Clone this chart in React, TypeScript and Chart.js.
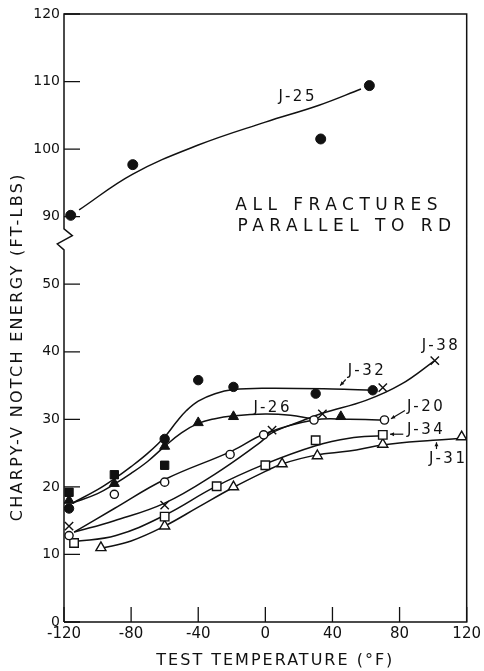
import React, { useEffect, useRef } from 'react';
import { Chart, registerables } from 'chart.js';

Chart.register(...registerables);

// ---------- axis ----------
const xTickValues = [-120, -80, -40, 0, 40, 80, 120];
const xTickLabels = ['-120', '-80', '-40', '0', '40', '80', '120'];
const yTickLabels = ['0', '10', '20', '30', '40', '50', '90', '100', '110', '120'];
const X_TITLE = 'TEST TEMPERATURE (°F)';
const Y_TITLE = 'CHARPY-V NOTCH ENERGY (FT-LBS)';

// broken axis: energies of 90 and above are drawn 30 units lower
const BREAK_SHIFT = 30;
const BREAK_AT = 56.6; // axis units where the zig-zag sits
const mapEnergy = (v: number) => (v >= 90 ? v - BREAK_SHIFT : v);

// ---------- measured points ----------
const j25Temps = [-116, -79, 33, 62];
const j25Energy = [90.2, 97.7, 101.5, 109.4];

const j32Temps = [-117, -60, -40, -19, 30, 64];
const j32Energy = [16.8, 27.1, 35.8, 34.8, 33.8, 34.3];

const sqTemps = [-117, -90, -60];
const sqEnergy = [19.2, 21.8, 23.2];

const j26Temps = [-117, -90, -60, -40, -19, 45];
const j26Energy = [18.0, 20.5, 26.0, 29.5, 30.4, 30.4];

const j38Temps = [-117, -60, 4, 34, 70, 101];
const j38Energy = [14.2, 17.3, 28.4, 30.8, 34.7, 38.7];

const j20Temps = [-117, -90, -60, -21, -1, 29, 71];
const j20Energy = [12.8, 18.9, 20.7, 24.8, 27.7, 29.9, 29.9];

const j34Temps = [-114, -60, -29, 0, 30, 70];
const j34Energy = [11.7, 15.6, 20.1, 23.2, 26.9, 27.7];

const j31Temps = [-98, -60, -19, 10, 31, 70, 117];
const j31Energy = [11.0, 14.2, 20.0, 23.4, 24.6, 26.3, 27.4];

// ---------- hand-drawn fit curves ----------
const j25CurveT = [-111, -79, -40, 0, 32, 57];
const j25CurveE = [91.0, 96.3, 100.6, 104.0, 106.5, 108.9];

const j32CurveT = [-115, -100, -90, -80, -70, -60, -53, -47, -40, -30, -19, 0, 40, 64];
const j32CurveE = [17.6, 19.6, 21.2, 23.0, 25.0, 27.4, 29.6, 31.3, 32.7, 33.8, 34.4, 34.6, 34.5, 34.3];

const j26CurveT = [-115, -100, -90, -80, -70, -60, -50, -40, -30, -20, 0, 15, 27];
const j26CurveE = [17.6, 19.0, 20.4, 22.0, 23.8, 26.0, 28.0, 29.4, 30.1, 30.5, 30.8, 30.6, 30.1];

const j38CurveT = [-114, -90, -60, -30, -4, 4, 20, 34, 60, 81, 101];
const j38CurveE = [13.3, 15.0, 17.6, 21.9, 26.4, 28.0, 29.6, 30.9, 32.8, 35.2, 38.7];

const j20CurveT = [-114, -90, -60, -20, 0, 29, 50, 71];
const j20CurveE = [13.3, 16.8, 21.1, 25.3, 27.9, 29.9, 30.0, 29.9];

const j34CurveT = [-114, -89, -60, -30, 0, 30, 50, 70];
const j34CurveE = [11.9, 12.8, 15.8, 20.0, 23.4, 26.1, 27.2, 27.6];

const j31CurveT = [-98, -80, -60, -40, -20, 0, 10, 30, 50, 70, 100, 118];
const j31CurveE = [10.9, 12.0, 14.2, 17.0, 19.8, 22.3, 23.4, 24.7, 25.3, 26.2, 26.9, 27.2];

// ---------- annotations (axis units) ----------
const seriesLabels = [
  { text: 'J-25', x: 18.6, y: 77.7 },
  { text: 'J-32', x: 59.9, y: 37.2 },
  { text: 'J-38', x: 104, y: 40.8 },
  { text: 'J-26', x: 3.7, y: 31.7 },
  { text: 'J-20', x: 95.1, y: 31.8 },
  { text: 'J-34', x: 95.1, y: 28.4 },
  { text: 'J-31', x: 108.3, y: 24.1 },
];
const arrows = [
  { x1: 47.9, y1: 35.9, x2: 44.6, y2: 35.0 },
  { x1: 83.2, y1: 31.3, x2: 74.9, y2: 30.1 },
  { x1: 82.2, y1: 27.8, x2: 74.3, y2: 27.8 },
  { x1: 102, y1: 25.6, x2: 102, y2: 26.6 },
];
const noteLines = [
  { text: 'ALL FRACTURES', x: 42.4, y: 61.6 },
  { text: 'PARALLEL TO RD', x: 47.1, y: 58.6 },
];

const INK = '#111111';
const FONT = '"DejaVu Sans", sans-serif';

const pts = (t: number[], e: number[]) => t.map((x, i) => ({ x, y: mapEnergy(e[i]) }));

const markerSet = (label: string, t: number[], e: number[], style: string, r: number, filled: boolean) => ({
  label,
  data: pts(t, e),
  showLine: false,
  pointStyle: style,
  pointRadius: r,
  pointHoverRadius: r,
  pointBackgroundColor: filled ? INK : '#ffffff',
  pointBorderColor: INK,
  pointBorderWidth: filled ? 1 : 1.4,
});

const curveSet = (label: string, t: number[], e: number[]) => ({
  label,
  data: pts(t, e),
  showLine: true,
  pointRadius: 0,
  pointHoverRadius: 0,
  borderColor: INK,
  borderWidth: 1.5,
  fill: false,
  tension: 0.4,
});

const decorPlugin = {
  id: 'decor',
  afterDraw(chart: any) {
    const { ctx, chartArea: a, scales } = chart;
    const xs = scales.x;
    const ys = scales.y;
    ctx.save();
    ctx.strokeStyle = INK;
    ctx.fillStyle = INK;
    ctx.lineWidth = 1.5;
    ctx.lineJoin = 'miter';

    // frame with broken left axis
    const brk = ys.getPixelForValue(BREAK_AT);
    ctx.beginPath();
    ctx.moveTo(a.left, a.bottom);
    ctx.lineTo(a.right, a.bottom);
    ctx.lineTo(a.right, a.top);
    ctx.lineTo(a.left, a.top);
    ctx.lineTo(a.left, brk - 10.7);
    ctx.lineTo(a.left + 8.3, brk - 4);
    ctx.lineTo(a.left - 6.7, brk + 4.3);
    ctx.lineTo(a.left, brk + 10.3);
    ctx.lineTo(a.left, a.bottom);
    ctx.stroke();

    // inward tick marks
    ctx.lineWidth = 1.3;
    ctx.beginPath();
    ys.ticks.forEach((t: any) => {
      const py = ys.getPixelForValue(t.value);
      ctx.moveTo(a.left, py);
      ctx.lineTo(a.left + 16, py);
    });
    xs.ticks.forEach((t: any) => {
      const px = xs.getPixelForValue(t.value);
      ctx.moveTo(px, a.bottom);
      ctx.lineTo(px, a.bottom - 15);
    });
    ctx.stroke();

    ctx.textAlign = 'center';
    ctx.textBaseline = 'middle';

    // series labels
    ctx.font = `15px ${FONT}`;
    (ctx as any).letterSpacing = '2.5px';
    seriesLabels.forEach((l) => {
      ctx.fillText(l.text, xs.getPixelForValue(l.x) + 1.2, ys.getPixelForValue(l.y));
    });

    // arrows
    ctx.lineWidth = 1.2;
    arrows.forEach((ar) => {
      const x1 = xs.getPixelForValue(ar.x1);
      const y1 = ys.getPixelForValue(ar.y1);
      const x2 = xs.getPixelForValue(ar.x2);
      const y2 = ys.getPixelForValue(ar.y2);
      ctx.beginPath();
      ctx.moveTo(x1, y1);
      ctx.lineTo(x2, y2);
      ctx.stroke();
      const ang = Math.atan2(y2 - y1, x2 - x1);
      const hl = 4.5;
      ctx.beginPath();
      ctx.moveTo(x2, y2);
      ctx.lineTo(x2 - hl * Math.cos(ang - 0.45), y2 - hl * Math.sin(ang - 0.45));
      ctx.lineTo(x2 - hl * Math.cos(ang + 0.45), y2 - hl * Math.sin(ang + 0.45));
      ctx.closePath();
      ctx.fill();
    });

    // note
    ctx.font = `17px ${FONT}`;
    (ctx as any).letterSpacing = '5.5px';
    noteLines.forEach((l) => {
      ctx.fillText(l.text, xs.getPixelForValue(l.x) + 2.7, ys.getPixelForValue(l.y));
    });

    // axis titles
    ctx.font = `16px ${FONT}`;
    (ctx as any).letterSpacing = '2px';
    ctx.fillText(X_TITLE, (a.left + a.right) / 2 + 10, a.bottom + 39);
    ctx.save();
    ctx.translate(18, (a.top + a.bottom) / 2 + 30);
    ctx.rotate(-Math.PI / 2);
    (ctx as any).letterSpacing = '2.3px';
    ctx.fillText(Y_TITLE, 1.2, 0);
    ctx.restore();

    ctx.restore();
  },
};

export default function App() {
  const ref = useRef<HTMLCanvasElement | null>(null);

  useEffect(() => {
    if (!ref.current) return;
    const chart = new Chart(ref.current, {
      type: 'line',
      data: {
        datasets: [
          markerSet('J-25', j25Temps, j25Energy, 'circle', 5, true),
          markerSet('J-32', j32Temps, j32Energy, 'circle', 4.7, true),
          markerSet('filled squares', sqTemps, sqEnergy, 'rect', 5.9, true),
          markerSet('J-26', j26Temps, j26Energy, 'triangle', 5.8, true),
          markerSet('J-38', j38Temps, j38Energy, 'crossRot', 5.9, false),
          markerSet('J-20', j20Temps, j20Energy, 'circle', 4.1, false),
          markerSet('J-34', j34Temps, j34Energy, 'rect', 6, false),
          markerSet('J-31', j31Temps, j31Energy, 'triangle', 5.8, false),
          curveSet('J-25 curve', j25CurveT, j25CurveE),
          curveSet('J-32 curve', j32CurveT, j32CurveE),
          curveSet('J-26 curve', j26CurveT, j26CurveE),
          curveSet('J-38 curve', j38CurveT, j38CurveE),
          curveSet('J-20 curve', j20CurveT, j20CurveE),
          curveSet('J-34 curve', j34CurveT, j34CurveE),
          curveSet('J-31 curve', j31CurveT, j31CurveE),
        ] as any,
      },
      options: {
        responsive: false,
        animation: false,
        layout: { padding: { top: 14, right: 16, left: 0, bottom: 0 } },
        plugins: {
          legend: { display: false },
          tooltip: { enabled: false },
        },
        scales: {
          x: {
            type: 'linear',
            min: -120,
            max: 120,
            afterBuildTicks: (s: any) => {
              s.ticks = xTickValues.map((v) => ({ value: v }));
            },
            afterFit: (s: any) => {
              s.height = 49;
            },
            grid: { display: false, drawTicks: false },
            border: { display: false },
            ticks: {
              padding: 3,
              color: INK,
              font: { family: FONT, size: 15 },
              maxRotation: 0,
              autoSkip: false,
              callback: (_v: any, i: number) => xTickLabels[i],
            },
          },
          y: {
            type: 'linear',
            min: 0,
            max: 90,
            afterFit: (s: any) => {
              s.width = 64;
            },
            grid: { display: false, drawTicks: false },
            border: { display: false },
            ticks: {
              stepSize: 10,
              padding: 4,
              color: INK,
              font: { family: FONT, size: 14 },
              autoSkip: false,
              callback: (_v: any, i: number) => yTickLabels[i],
            },
          },
        },
      } as any,
      plugins: [decorPlugin],
    });
    return () => chart.destroy();
  }, []);

  return (
    <div style={{ position: 'fixed', left: 0, top: 0, width: 484, height: 671, background: '#ffffff' }}>
      <canvas ref={ref} width={484} height={671} style={{ display: 'block', width: 484, height: 671 }} />
    </div>
  );
}
